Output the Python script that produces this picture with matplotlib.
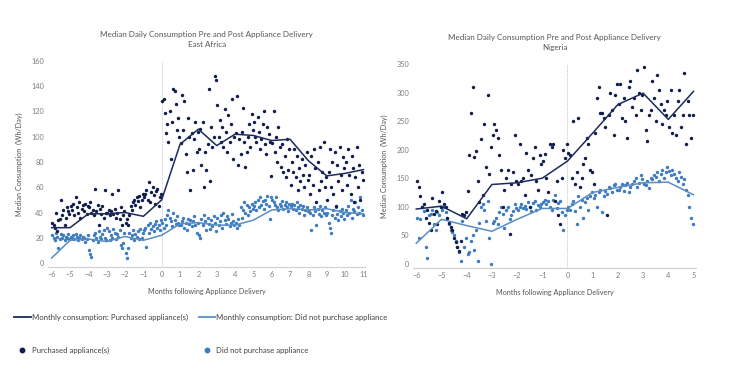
import numpy as np
import matplotlib
matplotlib.use("Agg")
import matplotlib.pyplot as plt
from matplotlib.lines import Line2D

plt.rcParams['font.family'] = ['Lato', 'DejaVu Sans']

# ---- East Africa ----
ea_months = list(range(-6, 12))
ea_line_purch = [28, 28, 39, 39, 40, 37, 50, 94, 106, 93, 102, 101, 97, 98, 81, 69, 71, 74]
ea_line_none = [4, 18, 19, 17, 21, 18, 22, 31, 32, 30, 30, 34, 42, 43, 42, 43, 40, 39]

# daily medians, one block per month (every 2nd day)
ea_pts_purch = [
    [32, 30, 28, 40, 25, 34, 35, 50, 38, 42, 30, 36, 44, 41, 39],
    [45, 42, 47, 38, 52, 44, 40, 48, 36, 43, 46, 41, 47, 39, 45],
    [44, 48, 40, 42, 38, 59, 41, 46, 30, 43, 39, 45, 36, 58, 40],
    [40, 42, 38, 41, 55, 39, 43, 36, 40, 58, 35, 44, 30, 38, 41],
    [32, 35, 30, 38, 45, 42, 48, 50, 46, 52, 49, 53, 44, 50, 55],
    [52, 55, 58, 50, 64, 48, 56, 60, 54, 47, 57, 59, 45, 52, 55],
    [128, 130, 119, 103, 110, 96, 120, 82, 112, 138, 136, 126, 105, 115, 100],
    [95, 133, 105, 128, 86, 72, 115, 100, 58, 103, 74, 98, 112, 88, 104],
    [90, 106, 78, 112, 60, 88, 74, 94, 138, 65, 108, 92, 100, 148, 145],
    [125, 100, 113, 96, 108, 92, 122, 104, 88, 117, 96, 110, 130, 82, 100],
    [103, 132, 78, 98, 86, 104, 123, 96, 76, 88, 100, 110, 92, 118, 105],
    [112, 100, 96, 116, 104, 90, 98, 110, 120, 94, 86, 108, 102, 96, 69],
    [95, 120, 88, 100, 80, 108, 92, 76, 94, 72, 85, 68, 98, 74, 90],
    [62, 80, 72, 90, 68, 85, 58, 75, 65, 82, 70, 60, 78, 88, 66],
    [70, 55, 85, 62, 90, 75, 48, 80, 58, 92, 65, 72, 96, 60, 68],
    [50, 72, 90, 60, 80, 55, 88, 45, 78, 65, 92, 70, 58, 84, 75],
    [80, 62, 90, 70, 55, 85, 75, 48, 68, 92, 60, 78, 50, 72, 66],
]
ea_pts_none = [
    [22, 20, 18, 24, 21, 12, 19, 23, 20, 22, 18, 21, 20, 23, 19],
    [21, 20, 22, 19, 23, 21, 18, 20, 22, 19, 21, 20, 17, 19, 22],
    [10, 7, 5, 18, 22, 24, 20, 17, 25, 21, 19, 23, 26, 20, 18],
    [28, 25, 18, 22, 20, 27, 24, 19, 23, 21, 26, 14, 12, 16, 24],
    [8, 4, 12, 24, 20, 22, 26, 18, 23, 21, 25, 19, 27, 20, 24],
    [26, 28, 13, 30, 24, 32, 27, 29, 25, 31, 33, 28, 30, 26, 34],
    [32, 28, 35, 30, 38, 42, 36, 33, 29, 40, 34, 31, 37, 32, 30],
    [30, 33, 36, 28, 32, 26, 35, 31, 34, 29, 33, 37, 30, 24, 32],
    [22, 20, 35, 30, 38, 33, 26, 36, 31, 27, 34, 29, 37, 32, 25],
    [36, 30, 33, 38, 28, 40, 34, 31, 37, 35, 29, 32, 39, 33, 30],
    [32, 28, 35, 30, 44, 36, 42, 48, 40, 46, 38, 44, 41, 47, 43],
    [45, 48, 42, 50, 44, 52, 46, 49, 43, 50, 47, 53, 45, 35, 52],
    [50, 48, 46, 52, 44, 42, 47, 45, 49, 43, 46, 48, 44, 41, 47],
    [45, 47, 43, 46, 42, 48, 44, 40, 46, 43, 45, 38, 42, 44, 41],
    [42, 40, 26, 38, 44, 41, 30, 43, 39, 45, 37, 42, 40, 44, 38],
    [40, 32, 28, 24, 38, 42, 36, 44, 39, 34, 41, 37, 43, 40, 35],
    [42, 38, 45, 40, 50, 36, 43, 41, 48, 39, 44, 40, 52, 42, 38],
]

# ---- Nigeria ----
ng_months = list(range(-6, 6))
ng_line_purch = [96, 101, 79, 139, 142, 150, 180, 229, 279, 299, 253, 302]
ng_line_none = [36, 78, 67, 57, 78, 97, 97, 125, 134, 142, 143, 121]

ng_pts_purch = [
    [145, 135, 118, 100, 105, 80, 95, 72, 60, 115, 88, 92, 70, 110, 100],
    [125, 105, 100, 80, 72, 65, 60, 45, 38, 30, 22, 40, 88, 85, 90],
    [128, 190, 265, 310, 188, 198, 145, 108, 218, 120, 245, 170, 295, 158, 205],
    [225, 245, 235, 220, 190, 165, 100, 130, 150, 165, 52, 140, 160, 225, 145],
    [140, 210, 145, 150, 120, 195, 165, 100, 155, 185, 205, 145, 130, 190, 175],
    [180, 193, 150, 125, 210, 205, 210, 110, 145, 85, 70, 150, 200, 185, 210],
    [195, 190, 150, 250, 140, 160, 255, 135, 150, 175, 185, 220, 210, 165, 160],
    [140, 230, 290, 310, 265, 265, 255, 240, 85, 260, 300, 270, 225, 295, 315],
    [280, 315, 255, 290, 250, 220, 310, 320, 275, 290, 260, 340, 300, 270, 295],
    [345, 235, 215, 260, 270, 320, 290, 250, 330, 305, 280, 245, 270, 260, 285],
    [240, 305, 230, 260, 225, 285, 305, 240, 260, 335, 210, 285, 260, 220, 260],
]
ng_pts_none = [
    [80, 45, 78, 100, 92, 30, 10, 85, 88, 95, 70, 60, 90, 85, 100],
    [95, 100, 90, 80, 70, 60, 55, 50, 40, 30, 20, 5, 75, 30, 45],
    [18, 20, 40, 50, 25, 60, 5, 72, 100, 105, 95, 75, 110, 45, 0],
    [72, 75, 80, 70, 90, 100, 88, 62, 95, 100, 78, 85, 92, 104, 98],
    [95, 100, 105, 98, 102, 96, 108, 100, 92, 106, 110, 95, 103, 99, 105],
    [108, 112, 104, 110, 100, 95, 112, 120, 98, 106, 110, 90, 60, 85, 95],
    [100, 95, 105, 110, 92, 70, 118, 100, 112, 80, 108, 115, 95, 118, 125],
    [115, 120, 100, 125, 130, 90, 118, 128, 122, 135, 132, 125, 138, 140, 130],
    [130, 135, 140, 128, 138, 142, 125, 135, 140, 145, 150, 135, 142, 155, 148],
    [140, 138, 145, 132, 150, 148, 155, 152, 160, 145, 158, 165, 150, 160, 170],
    [162, 155, 165, 158, 150, 145, 160, 152, 140, 148, 130, 120, 100, 80, 70],
]

DARK = '#101d4c'
LIGHT = '#3e7cc0'
LINE_DARK = '#1d2b5c'
LINE_LIGHT = '#5a8dc4'
GREY = '#7f7f7f'


def day_positions(blocks, start):
    # positions of the daily points, in months from delivery
    xs, ys = [], []
    for k, block in enumerate(blocks):
        n = len(block)
        for i, v in enumerate(block):
            xs.append(start + k + (i + 0.5) / n)
            ys.append(v)
    return xs, ys


def draw_panel(ax, months, line_p, line_n, pts_p, pts_n, region, ylim, yticks):
    xp, yp = day_positions(pts_p, months[0])
    xn, yn = day_positions(pts_n, months[0])
    ax.axvline(0, color='#c8c8c8', lw=0.7, ls=(0, (1, 1)), zorder=0)
    ax.scatter(xn, yn, s=6, color=LIGHT, lw=0, zorder=2)
    ax.scatter(xp, yp, s=6, color=DARK, lw=0, zorder=2)
    ax.plot(months, line_n, color=LINE_LIGHT, lw=1.1, zorder=3)
    ax.plot(months, line_p, color=LINE_DARK, lw=1.1, zorder=3)
    ax.set_ylim(*ylim)
    ax.set_yticks(yticks)
    ax.set_xticks(months)
    for s in ['top', 'right', 'left']:
        ax.spines[s].set_visible(False)
    ax.spines['bottom'].set_color('#d0d0d0')
    ax.spines['bottom'].set_linewidth(0.8)
    ax.tick_params(length=0, labelsize=5.3, labelcolor=GREY, pad=3)
    ax.set_title('Median Daily Consumption Pre and Post Appliance Delivery\n' + region,
                 fontsize=5.8, color='#555555', pad=10, linespacing=1.5)
    ax.set_xlabel('Months following Appliance Delivery', fontsize=5.2, color='#555555', labelpad=7)
    ax.set_ylabel('Median Consumption  (Wh/Day)', fontsize=5.2, color='#555555', labelpad=6)


fig = plt.figure(figsize=(7.5, 3.81), dpi=100)
ax1 = fig.add_axes([0.064, 0.299, 0.423, 0.541])
ax2 = fig.add_axes([0.551, 0.297, 0.377, 0.535])

draw_panel(ax1, ea_months, ea_line_purch, ea_line_none, ea_pts_purch, ea_pts_none,
           'East Africa', (-3.2, 160), range(0, 161, 20))
ax1.set_xlim(-6.2, 11.1)
draw_panel(ax2, ng_months, ng_line_purch, ng_line_none, ng_pts_purch, ng_pts_none,
           'Nigeria', (-7, 350), range(0, 351, 50))
ax2.set_xlim(-6.12, 5.1)

col1 = [Line2D([], [], color=LINE_DARK, lw=1.3),
        Line2D([], [], color=DARK, marker='o', ms=3.2, lw=0)]
col2 = [Line2D([], [], color=LINE_LIGHT, lw=1.3),
        Line2D([], [], color=LIGHT, marker='o', ms=3.2, lw=0)]
lab1 = ['Monthly consumption: Purchased appliance(s)', 'Purchased appliance(s)']
lab2 = ['Monthly consumption: Did not purchase appliance', 'Did not purchase appliance']
for handles, labels, x0 in [(col1, lab1, 0.019), (col2, lab2, 0.265)]:
    leg = fig.legend(handles, labels, loc='upper left', frameon=False, fontsize=5.6,
                     handlelength=2.1, handletextpad=0.15, labelspacing=3.3,
                     borderaxespad=0, borderpad=0)
    leg.set_bbox_to_anchor((x0, 1 - 314 / 381), transform=fig.transFigure)
    for t in leg.get_texts():
        t.set_color('#404040')

fig.savefig('out.png', dpi=100, facecolor='white')
